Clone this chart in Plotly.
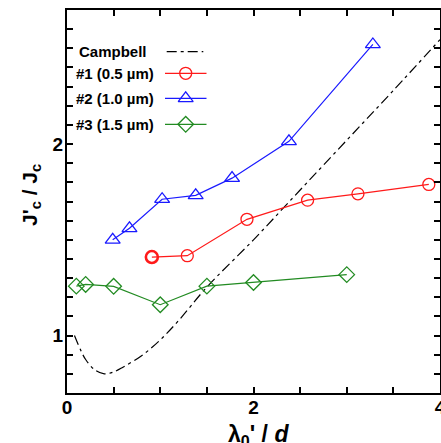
import plotly.graph_objects as go

# ---- data ----
campbell_x = [0.08, 0.15, 0.2, 0.3, 0.4, 0.5, 0.6, 0.8, 1.0, 1.2, 1.5, 2.0, 2.5, 3.0, 3.5, 4.0]
campbell_y = [1.0, 0.92, 0.875, 0.82, 0.80, 0.81, 0.835, 0.895, 0.977, 1.08, 1.253, 1.50, 1.76, 2.02, 2.28, 2.545]

s1_x = [0.91, 1.29, 1.93, 2.58, 3.12, 3.88]
s1_y = [1.41, 1.417, 1.607, 1.707, 1.74, 1.789]

s2_x = [0.49, 0.67, 1.02, 1.38, 1.77, 2.38, 3.28]
s2_y = [1.50, 1.56, 1.712, 1.732, 1.822, 2.014, 2.52]

s3_x = [0.10, 0.20, 0.50, 1.00, 1.50, 2.00, 3.00]
s3_y = [1.258, 1.267, 1.257, 1.161, 1.258, 1.277, 1.318]

legend_labels = ["Campbell", "#1 (0.5 µm)", "#2 (1.0 µm)", "#3 (1.5 µm)"]

x_ticks = [0, 0.5, 1, 1.5, 2, 2.5, 3, 3.5, 4]
x_ticktext = ["0", "", "", "", "2", "", "", "", "4"]
y_ticks = [round(0.7 + 0.1 * i, 1) for i in range(21)]
y_ticktext = ["1" if v == 1.0 else ("2" if v == 2.0 else "") for v in y_ticks]

RED = "#ff1a1a"
BLUE = "#1a1aff"
GREEN = "#228b22"
FONT = "Liberation Sans, Arial, sans-serif"
DASH = "10px,4px,3px,4px"

# plot area in pixels: left 67, right 440, top 10, bottom 393
L, R, T, B = 67, 440, 10, 393


def px(xp):
    return (xp - L) / (R - L)


def py(yp):
    return (B - yp) / (B - T)


fig = go.Figure()

fig.add_trace(go.Scatter(x=campbell_x, y=campbell_y, mode="lines",
                         line=dict(color="black", width=1.2, dash=DASH, shape="spline"),
                         showlegend=False))
fig.add_trace(go.Scatter(x=s1_x, y=s1_y, mode="lines+markers",
                         line=dict(color=RED, width=1.2),
                         marker=dict(symbol="circle-open", size=12, color=RED,
                                     line=dict(width=[2.6, 1.3, 1.3, 1.3, 1.3, 1.3],
                                               color=["#ff3300", RED, RED, RED, RED, RED])),
                         showlegend=False))
fig.add_trace(go.Scatter(x=s2_x, y=s2_y, mode="lines+markers",
                         line=dict(color=BLUE, width=1.2),
                         marker=dict(symbol="triangle-up-open", size=13, color=BLUE, line=dict(width=1.3)),
                         showlegend=False))
fig.add_trace(go.Scatter(x=s3_x, y=s3_y, mode="lines+markers",
                         line=dict(color=GREEN, width=1.2),
                         marker=dict(symbol="diamond-open", size=12, color=GREEN, line=dict(width=1.3)),
                         showlegend=False))

# ---- custom legend (samples on hidden overlay axes, labels as annotations) ----
row_y = [py(51.7), py(73.3), py(98.3), py(124.3)]
fig.add_trace(go.Scatter(x=[px(166.7), px(203.3)], y=[row_y[0]] * 2, mode="lines", xaxis="x2", yaxis="y2",
                         line=dict(color="black", width=1.2, dash=DASH), showlegend=False,
                         hoverinfo="skip"))
for yy, col, sym, sz in [(row_y[1], RED, "circle-open", 12), (row_y[2], BLUE, "triangle-up-open", 13),
                         (row_y[3], GREEN, "diamond-open", 12)]:
    fig.add_trace(go.Scatter(x=[px(165), px(206.5)], y=[yy] * 2, mode="lines", xaxis="x2", yaxis="y2",
                             line=dict(color=col, width=1.2), showlegend=False, hoverinfo="skip"))
    fig.add_trace(go.Scatter(x=[px(185.7)], y=[yy], mode="markers", xaxis="x2", yaxis="y2",
                             marker=dict(symbol=sym, size=sz, color=col, line=dict(width=1.3)),
                             showlegend=False, hoverinfo="skip"))
for i, yy in enumerate(row_y):
    fig.add_annotation(x=px(76.7) if i == 0 else px(74), y=yy, xref="paper", yref="paper",
                       text=legend_labels[i], showarrow=False, xanchor="left", yanchor="middle",
                       font=dict(family=FONT, size=15, color="black", weight="bold"))

# axis titles as annotations
fig.add_annotation(x=px(258), y=py(419), xref="paper", yref="paper",
                   text="λ<sub>0</sub>' / <i>d</i>", showarrow=False, xanchor="center", yanchor="top",
                   font=dict(family=FONT, size=23, color="black", weight="bold"))
fig.add_annotation(x=px(31), y=py(195), xref="paper", yref="paper", textangle=-90,
                   text="J'<sub>c</sub> / J<sub>c</sub>", showarrow=False, xanchor="center", yanchor="middle",
                   font=dict(family=FONT, size=21, color="black", weight="bold"))

axis_common = dict(showline=True, linecolor="black", linewidth=2, ticks="inside", ticklen=6,
                   tickwidth=1.5, tickcolor="black", mirror="ticks", showgrid=False, zeroline=False,
                   automargin=False, ticklabeloverflow="allow",
                   tickfont=dict(family=FONT, size=19, color="black", weight="bold"))

fig.update_layout(
    width=441, height=443,
    margin=dict(l=L, r=441 - R, t=T, b=443 - B, autoexpand=False),
    paper_bgcolor="white", plot_bgcolor="white",
    xaxis=dict(range=[0, 4], tickmode="array", tickvals=x_ticks, ticktext=x_ticktext,
               ticklabelstandoff=-4, **axis_common),
    yaxis=dict(range=[0.7, 2.7], tickmode="array", tickvals=y_ticks, ticktext=y_ticktext,
               ticklabelstandoff=-2, **axis_common),
    xaxis2=dict(range=[0, 1], overlaying="x", anchor="y2", visible=False),
    yaxis2=dict(range=[0, 1], overlaying="y", anchor="x2", visible=False),
)

fig.write_html("out.html", config={"displayModeBar": False},
               post_script="document.body.style.margin='0';document.body.style.overflow='hidden';")
